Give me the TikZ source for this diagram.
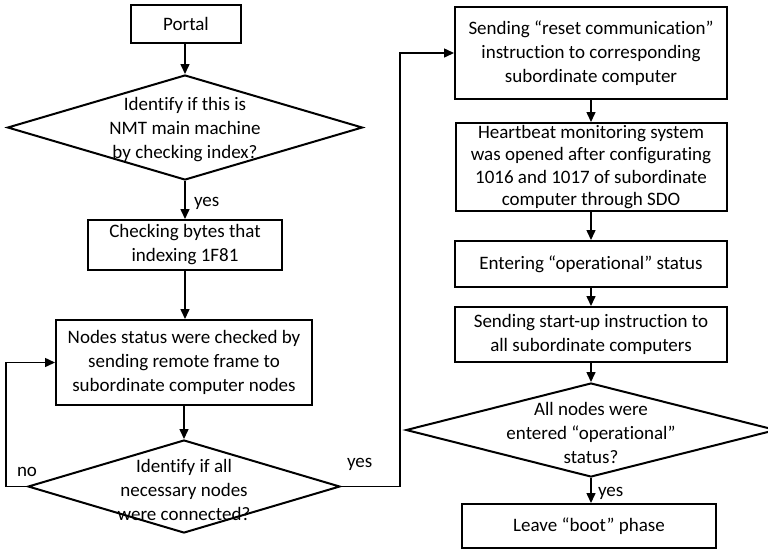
\documentclass[tikz,border=0pt]{standalone}
\usepackage{fontspec}
\setmainfont{Carlito}[Ligatures=NoCommon]
\usetikzlibrary{shapes.geometric,arrows.meta}
\begin{document}
\begin{tikzpicture}[x=1pt,y=-1pt,line width=2pt,
  box/.style={draw,rectangle,inner sep=0pt,align=center,font=\fontsize{19}{24}\selectfont},
  dia/.style={draw,diamond,inner sep=0pt},
  dtext/.style={align=center,font=\fontsize{19}{24}\selectfont},
  arr/.style={-{Triangle[length=10pt,width=9pt]},line width=1.5pt},
  lbl/.style={font=\fontsize{19}{20}\selectfont,inner sep=0pt}]
\useasboundingbox[fill=white] (0,0) rectangle (768,550);
% left column
\node[box,minimum width=110pt,minimum height=38pt] (b1) at (186,24) {Portal};
\node[dia,minimum width=355pt,minimum height=105pt] (d1) at (185,127.5) {};
\node[dtext] (t1) at (185,130) {Identify if this is\\NMT main machine\\by checking index?};
\node[box,minimum width=194pt,minimum height=50pt] (b2) at (185,245) {Checking bytes that\\indexing 1F81};
\node[box,minimum width=256pt,minimum height=85pt] (b3) at (184,362.5) {Nodes status were checked by\\sending remote frame to\\subordinate computer nodes};
\node[dia,minimum width=312pt,minimum height=93pt] (d2) at (184,486.5) {};
\node[dtext] (t2) at (184,490) {Identify if all\\necessary nodes\\were connected?};
% right column
\node[box,minimum width=272pt,minimum height=92pt] (b4) at (591,53) {Sending “reset communication”\\instruction to corresponding\\subordinate computer};
\node[box,minimum width=271pt,minimum height=88pt,font=\fontsize{19}{22.5}\selectfont] (b5) at (591,167) {Heartbeat monitoring system\\was opened after configurating\\1016 and 1017 of subordinate\\computer through SDO};
\node[box,minimum width=272pt,minimum height=46pt] (b6) at (591,264) {Entering “operational” status};
\node[box,minimum width=272pt,minimum height=55pt] (b7) at (591,334.5) {Sending start-up instruction to\\all subordinate computers};
\node[dia,minimum width=370pt,minimum height=94pt] (d3) at (591,430) {};
\node[dtext] (t3) at (591,433) {All nodes were\\entered “operational”\\status?};
\node[box,minimum width=254pt,minimum height=44pt] (b8) at (589,526) {Leave “boot” phase};
% connectors
\draw[arr] (b1.south -| d1.north) -- (d1.north);
\draw[arr] (d1.south) -- (b2.north -| d1.south);
\draw[arr] (b2.south) -- (b3.north -| b2.south);
\draw[arr] (b3.south -| d2.north) -- (d2.north);
\draw[arr] (d2.west) -- ++(-21,0) |- (b3.west);
\draw[arr] (d2.east) -- ++(59,0) |- (b4.west);
\draw[arr] (b4.south) -- (b5.north);
\draw[arr] (b5.south) -- (b6.north);
\draw[arr] (b6.south) -- (b7.north);
\draw[arr] (b7.south) -- (d3.north);
\draw[arr] (d3.south) -- (b8.north -| d3.south);
% labels
\node[lbl,anchor=west] (l1) at (193,203) {yes};
\node[lbl,anchor=west] (l2) at (16,472) {no};
\node[lbl,anchor=west] (l3) at (346,464) {yes};
\node[lbl,anchor=west] (l4) at (597,493) {yes};
\end{tikzpicture}
\end{document}
